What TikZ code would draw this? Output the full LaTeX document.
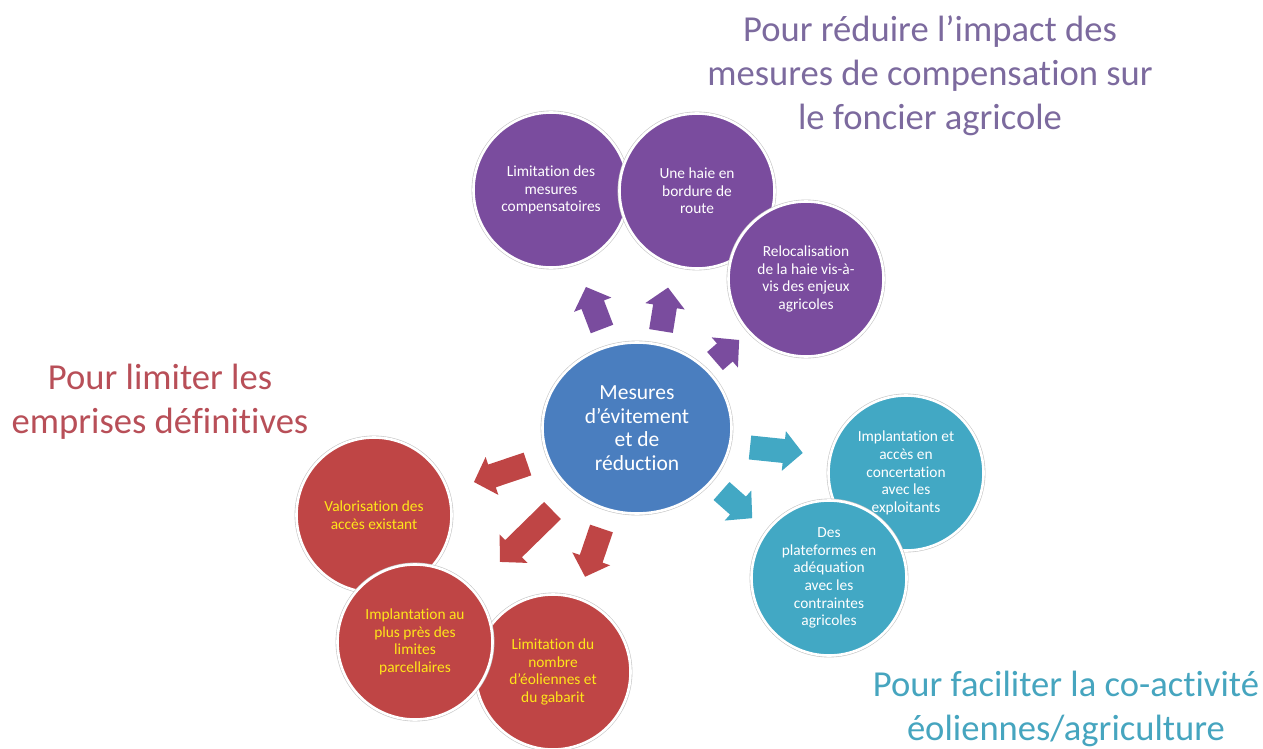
\documentclass[tikz,border=0pt]{standalone}
\usepackage{fontspec}
\usetikzlibrary{shapes.geometric}
\setmainfont{Carlito}[Ligatures=NoCommon]
\definecolor{purpfill}{HTML}{7A4C9E}
\definecolor{redfill}{HTML}{BF4545}
\definecolor{cyanfill}{HTML}{42A8C4}
\definecolor{bluefill}{HTML}{4A7EBF}
\definecolor{yellowtxt}{HTML}{FFE61A}
\definecolor{purptitle}{HTML}{7C6A9E}
\definecolor{redtitle}{HTML}{B84F58}
\definecolor{cyantitle}{HTML}{46A5BF}
\begin{document}
\begin{tikzpicture}[x=1pt,y=-1pt,
  ring/.style={draw=white, line width=2.6pt, preaction={draw=black!22, line width=3.8pt}},
  bubble/.style={circle, minimum size=155pt, inner sep=0pt, align=center, ring,
    font=\fontsize{15.4}{17.6}\selectfont, text=white},
  purpbub/.style={bubble, fill=purpfill},
  redbub/.style={bubble, fill=redfill, text=yellowtxt},
  cyanbub/.style={bubble, fill=cyanfill},
  title/.style={align=center, font=\fontsize{36.6}{44}\selectfont},
  blockarrow/.pic={
    \path[pic actions] (0,-12) -- (#1-19,-12) -- (#1-19,-20) -- (#1,0)
      -- (#1-19,20) -- (#1-19,12) -- (0,12) -- cycle;}
]
\useasboundingbox (0,0) rectangle (1263,749);

% titles
\node[title, text=purptitle] (ttop) at (930,76) {Pour réduire l’impact des\\mesures de compensation sur\\le foncier agricole};
\node[title, text=redtitle] (tleft) at (160,402) {Pour limiter les\\emprises définitives};
\node[title, text=cyantitle] (tright) at (1066,709) {Pour faciliter la co-activité\\éoliennes/agriculture};

% central measure
\node[ellipse, minimum width=189pt, minimum height=171pt, inner sep=0pt, align=center, ring,
  fill=bluefill, text=white, font=\fontsize{21.5}{23.6}\selectfont] (center) at (637,428)
  {Mesures\\d’évitement\\et de\\réduction};

% purple branch
\node[purpbub] (p1) at (551,190) {Limitation des\\mesures\\compensatoires};
\node[purpbub] (p2) at (697,191) {Une haie en\\bordure de\\route};
\node[purpbub] (p3) at (806,279) {Relocalisation\\de la haie vis-à-\\vis des enjeux\\agricoles};

% red branch
\node[redbub] (r1) at (374,515) {Valorisation des\\accès existant};
\node[redbub] (r3) at (553,672) {Limitation du\\nombre\\d’éoliennes et\\du gabarit};
\node[redbub] (r2) at (415,642) {Implantation au\\plus près des\\limites\\parcellaires};

% cyan branch
\node[cyanbub] (c1) at (906,473) {Implantation et\\accès en\\concertation\\avec les\\exploitants};
\node[cyanbub] (c2) at (829,578) {Des\\plateformes en\\adéquation\\avec les\\contraintes\\agricoles};

% block arrows from the centre outwards
\pic[fill=purpfill, rotate=110.9] at (602,329) {blockarrow=45};
\pic[fill=purpfill, rotate=80.8] at (661,331) {blockarrow=44};
\pic[fill=purpfill, rotate=41] at (715,361) {blockarrow=32};
\pic[fill=redfill, rotate=198.6] at (527.5,464) {blockarrow=56.5};
\pic[fill=redfill, rotate=224.4] at (552.5,510.5) {blockarrow=73.5};
\pic[fill=redfill, rotate=251.2] at (601.5,528.5) {blockarrow=51};
\pic[fill=cyanfill, rotate=-5.9] at (750,447.5) {blockarrow=53};
\pic[fill=cyanfill, rotate=-41.5] at (721.5,491) {blockarrow=41};
\end{tikzpicture}
\end{document}
